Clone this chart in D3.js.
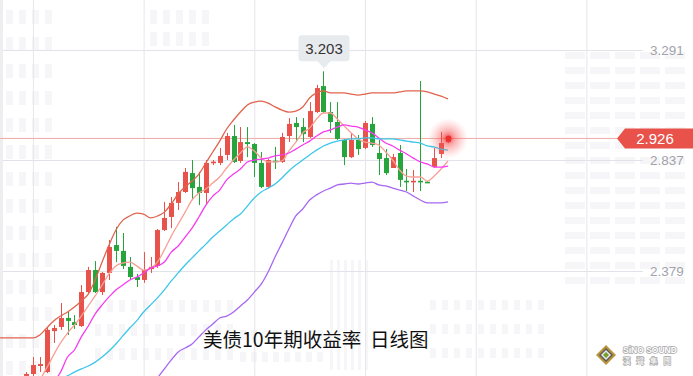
<!DOCTYPE html>
<html>
<head>
<meta charset="utf-8">
<script src="https://cdn.jsdelivr.net/npm/d3@7"></script>
<style>
  html, body { margin: 0; padding: 0; background: #fff; overflow: hidden; }
  svg { display: block; }
</style>
</head>
<body>
<div id="chart"></div>
<script>
// Daily candles, index 0 = first visible bar
const opens = [1.946,1.954,1.987,1.962,2.131,2.148,2.185,2.168,2.152,2.292,2.383,2.292,2.371,2.486,2.462,2.396,2.354,2.342,2.387,2.400,2.548,2.602,2.660,2.705,2.783,2.726,2.701,2.825,2.825,2.858,2.936,2.833,2.911,2.903,2.825,2.726,2.833,2.829,2.936,2.990,2.973,2.932,3.035,3.142,3.035,2.994,2.920,2.849,2.920,2.887,2.986,2.866,2.845,2.804,2.866,2.750,2.746,2.750,2.746,2.808,2.862,2.911];
const highs = [1.962,2.024,2.024,2.148,2.156,2.247,2.210,2.197,2.321,2.396,2.420,2.375,2.507,2.561,2.536,2.437,2.367,2.457,2.437,2.552,2.664,2.684,2.746,2.804,2.837,2.788,2.837,2.837,2.887,2.949,2.982,2.973,2.973,2.907,2.870,2.841,2.891,2.949,3.010,3.014,3.010,3.076,3.147,3.203,3.076,3.076,2.924,2.949,2.940,2.998,3.014,2.920,2.882,2.862,2.899,2.800,2.796,3.163,2.750,2.887,2.953,2.932];
const lows = [1.946,1.946,1.962,1.958,2.082,2.136,2.115,2.140,2.148,2.288,2.288,2.280,2.342,2.416,2.387,2.342,2.313,2.330,2.371,2.392,2.544,2.556,2.631,2.701,2.672,2.651,2.656,2.816,2.816,2.837,2.825,2.825,2.849,2.767,2.721,2.721,2.800,2.825,2.911,2.911,2.911,2.928,3.031,3.031,2.949,2.920,2.816,2.845,2.858,2.882,2.891,2.775,2.775,2.804,2.726,2.709,2.705,2.709,2.742,2.804,2.845,2.907];
const closes = [1.954,1.991,1.995,2.136,2.144,2.185,2.173,2.156,2.292,2.383,2.292,2.371,2.478,2.462,2.400,2.354,2.342,2.383,2.396,2.548,2.598,2.660,2.705,2.788,2.721,2.701,2.825,2.829,2.854,2.936,2.829,2.911,2.903,2.825,2.726,2.837,2.829,2.932,2.986,2.973,2.944,3.039,3.134,3.035,2.994,2.924,2.849,2.920,2.882,2.990,2.899,2.841,2.783,2.849,2.755,2.746,2.750,2.746,2.742,2.845,2.907,2.926];

// Indicator lines; each starts at the given bar index
const upperStart = -4;
const upperBand = [2.103,2.103,2.103,2.103,2.103,2.103,2.115,2.144,2.173,2.193,2.210,2.230,2.255,2.284,2.342,2.416,2.486,2.548,2.589,2.606,2.618,2.614,2.598,2.606,2.622,2.656,2.697,2.726,2.750,2.779,2.825,2.870,2.915,2.965,3.002,3.035,3.064,3.076,3.080,3.072,3.056,3.043,3.035,3.039,3.056,3.093,3.114,3.122,3.114,3.114,3.114,3.109,3.105,3.109,3.114,3.114,3.114,3.114,3.118,3.122,3.122,3.122,3.118,3.109,3.101,3.089];
const ma5Start = 2;
const ma5 = [1.929,1.979,2.033,2.082,2.123,2.156,2.193,2.235,2.276,2.321,2.367,2.400,2.412,2.416,2.400,2.383,2.391,2.416,2.466,2.523,2.573,2.622,2.672,2.701,2.717,2.742,2.767,2.804,2.837,2.866,2.891,2.874,2.845,2.829,2.829,2.833,2.874,2.911,2.949,2.969,3.006,3.031,3.031,3.006,2.977,2.949,2.924,2.911,2.907,2.899,2.870,2.837,2.796,2.771,2.767,2.767,2.750,2.771,2.800,2.833];
const ma10Start = 4;
const ma10 = [1.921,1.962,2.024,2.053,2.107,2.152,2.202,2.239,2.272,2.301,2.321,2.342,2.354,2.371,2.391,2.400,2.416,2.457,2.482,2.519,2.556,2.602,2.651,2.688,2.713,2.755,2.779,2.800,2.829,2.837,2.841,2.845,2.854,2.858,2.866,2.882,2.899,2.915,2.936,2.953,2.961,2.973,2.982,2.977,2.973,2.961,2.949,2.928,2.907,2.895,2.878,2.862,2.845,2.829,2.821,2.808,2.808,2.812];
const midStart = 5;
const midBand = [1.933,1.946,1.962,1.975,1.987,2.003,2.024,2.049,2.078,2.111,2.144,2.173,2.210,2.239,2.268,2.301,2.338,2.371,2.404,2.433,2.462,2.490,2.519,2.544,2.569,2.594,2.614,2.647,2.680,2.705,2.721,2.738,2.763,2.792,2.816,2.837,2.858,2.878,2.895,2.907,2.915,2.920,2.924,2.924,2.928,2.928,2.924,2.924,2.924,2.920,2.915,2.911,2.907,2.895,2.891,2.882,2.878];
const lowerStart = 18;
const lowerBand = [1.896,1.937,1.975,2.012,2.045,2.061,2.078,2.107,2.136,2.160,2.185,2.193,2.210,2.235,2.259,2.292,2.325,2.375,2.437,2.494,2.552,2.606,2.635,2.672,2.693,2.709,2.721,2.734,2.738,2.742,2.738,2.742,2.746,2.734,2.730,2.721,2.713,2.705,2.688,2.672,2.660,2.660,2.660,2.664];

const yTicks = [2.379, 2.837, 3.291];
const xGridIdx = [1, 17, 33, 49, 65, 81];
const title = '美债10年期收益率  日线图';

const width = 693, height = 376;
const plotRight = 643;
const upColor = '#e8524a', downColor = '#25a53b';

const svg = d3.select('#chart').append('svg')
    .attr('width', width)
    .attr('height', height);

const x = d3.scaleLinear().domain([0, 61]).range([26, 448]);
const y = d3.scaleLinear().domain([2.379, 3.291]).range([271, 50]);

// faint building watermark
const wm = svg.append('g').attr('fill', '#f6f6f8');
const blocks = [
    // x0, y0, cols, rows, w, h, dx, dy
    [6, 10, 4, 14, 7, 14, 13, 27],
    [150, 10, 5, 2, 7, 14, 13, 22],
    [565, 52, 5, 16, 20, 7, 25, 15],
    [95, 300, 12, 3, 6, 12, 12, 24],
    [240, 330, 8, 2, 6, 10, 11, 22],
    [430, 300, 10, 3, 6, 10, 12, 24],
    [330, 260, 6, 1, 3, 110, 7, 0]
];
blocks.forEach(([x0, y0, cols, rows, w, h, dx, dy]) => {
    for (let r = 0; r < rows; r++) {
        for (let c = 0; c < cols; c++) {
            wm.append('rect')
                .attr('x', x0 + c * dx)
                .attr('y', y0 + r * dy)
                .attr('width', w)
                .attr('height', h);
        }
    }
});
svg.append('rect').attr('x', 0).attr('y', 0).attr('width', 3).attr('height', height).attr('fill', '#eeeef1');

// grid
const hGrid = svg.append('g')
    .attr('transform', `translate(${plotRight},0)`)
    .call(d3.axisLeft(y).tickValues(yTicks).tickSize(plotRight - 3).tickFormat(''));
hGrid.select('.domain').remove();
hGrid.selectAll('line').attr('stroke', '#e2e2ea');

const vGrid = svg.append('g')
    .call(d3.axisTop(x).tickValues(xGridIdx).tickSize(-height).tickFormat(''));
vGrid.select('.domain').remove();
vGrid.selectAll('line').attr('stroke', '#e6e6ec');

// last price line
const last = closes.length - 1;
const lastY = y(closes[last]);
svg.append('line')
    .attr('x1', 0).attr('x2', 617)
    .attr('y1', lastY).attr('y2', lastY)
    .attr('stroke', '#f1aaa4').attr('stroke-width', 1);

// candles
const idx = d3.range(closes.length);
const cw = 5;
const candles = svg.append('g');
idx.forEach(i => {
    const up = closes[i] >= opens[i];
    const col = up ? upColor : downColor;
    const cx = Math.round(x(i)) + 0.5;
    candles.append('line')
        .attr('x1', cx).attr('x2', cx)
        .attr('y1', y(highs[i])).attr('y2', y(lows[i]))
        .attr('stroke', col).attr('stroke-width', 1);
    const top = y(Math.max(opens[i], closes[i]));
    const bot = y(Math.min(opens[i], closes[i]));
    const h = Math.max(1.6, bot - top);
    candles.append('rect')
        .attr('x', cx - cw / 2).attr('y', (top + bot) / 2 - h / 2)
        .attr('width', cw).attr('height', h)
        .attr('fill', col);
});

// indicator lines
const line = d3.line().x(d => x(d[0])).y(d => y(d[1])).curve(d3.curveMonotoneX);
const series = [
    [upperBand, upperStart, '#e0644e'],
    [ma5, ma5Start, '#f7a096'],
    [ma10, ma10Start, '#f73bf0'],
    [midBand, midStart, '#3cc6ea'],
    [lowerBand, lowerStart, '#a767f2']
];
series.forEach(([vals, start, col]) => {
    svg.append('path')
        .datum(vals.map((v, k) => [start + k, v]))
        .attr('d', line)
        .attr('fill', 'none')
        .attr('stroke', col)
        .attr('stroke-width', 1.3);
});

// glow on last bar
const defs = svg.append('defs');
const grad = defs.append('radialGradient').attr('id', 'glow');
grad.append('stop').attr('offset', '0%').attr('stop-color', '#f02a2a').attr('stop-opacity', 0.85);
grad.append('stop').attr('offset', '35%').attr('stop-color', '#f34848').attr('stop-opacity', 0.45);
grad.append('stop').attr('offset', '100%').attr('stop-color', '#ff8080').attr('stop-opacity', 0);
svg.append('circle')
    .attr('cx', x(last)).attr('cy', lastY).attr('r', 20)
    .attr('fill', 'url(#glow)');
svg.append('circle')
    .attr('cx', x(last) + 0.5).attr('cy', lastY).attr('r', 3)
    .attr('fill', '#ee2f2f');

// max high label
const maxI = d3.maxIndex(highs);
const mx = x(maxI) + 0.5, my = y(highs[maxI]);
const tip = svg.append('g');
tip.append('rect')
    .attr('x', mx - 25.5).attr('y', my - 36)
    .attr('width', 51).attr('height', 26).attr('rx', 3)
    .attr('fill', '#e8ebee');
tip.append('path')
    .attr('d', `M${mx - 7},${my - 10.5}L${mx + 7},${my - 10.5}L${mx},${my - 3}Z`)
    .attr('fill', '#e8ebee');
tip.append('text')
    .attr('x', mx).attr('y', my - 23)
    .attr('dy', '0.35em')
    .attr('text-anchor', 'middle')
    .attr('font-family', '"Liberation Sans", Arial, sans-serif')
    .attr('font-size', 15)
    .attr('fill', '#333')
    .text(d3.format('.3f')(highs[maxI]));

// y labels
const yAxis = svg.append('g')
    .attr('transform', 'translate(648,0)')
    .call(d3.axisRight(y).tickValues(yTicks).tickSize(0).tickPadding(2).tickFormat(d3.format('.3f')));
yAxis.select('.domain').remove();
yAxis.selectAll('text')
    .attr('font-family', '"Liberation Sans", Arial, sans-serif')
    .attr('font-size', 13.5)
    .attr('fill', '#a2a2ab');

// last price tag
const tag = svg.append('g');
tag.append('path')
    .attr('d', `M617,${lastY}L625,${lastY - 10}L${width},${lastY - 10}L${width},${lastY + 10}L625,${lastY + 10}Z`)
    .attr('fill', '#e8524a');
tag.append('text')
    .attr('x', 655).attr('y', lastY)
    .attr('dy', '0.35em')
    .attr('text-anchor', 'middle')
    .attr('font-family', '"Liberation Sans", Arial, sans-serif')
    .attr('font-size', 15)
    .attr('fill', '#fff')
    .text(d3.format('.3f')(closes[last]));

// title
svg.append('text')
    .attr('x', 203).attr('y', 347)
    .attr('font-family', '"Noto Sans CJK SC", sans-serif')
    .attr('font-size', 19.5)
    .attr('fill', '#111')
    .style('white-space', 'pre')
    .text(title);

// logo
const logo = svg.append('g').attr('transform', 'translate(606,355)');
const diamond = s => `M0,${-s}L${s},0L0,${s}L${-s},0Z`;
logo.append('path').attr('d', diamond(10)).attr('fill', '#b8933c');
logo.append('path').attr('d', diamond(7)).attr('fill', '#5b5b5b');
logo.append('path').attr('d', diamond(5)).attr('fill', '#e9e9e9');
logo.append('path').attr('d', diamond(3)).attr('fill', '#74a02c');
logo.append('text')
    .attr('x', 17).attr('y', -2)
    .attr('font-family', '"Liberation Sans", Arial, sans-serif')
    .attr('font-weight', 'bold')
    .attr('font-size', 8.5)
    .attr('fill', '#fff')
    .attr('stroke', '#a8a8a8').attr('stroke-width', 1.4)
    .attr('paint-order', 'stroke')
    .text('SiNO SOUND');
logo.append('text')
    .attr('x', 17).attr('y', 9)
    .attr('font-family', '"Noto Sans CJK TC", sans-serif')
    .attr('font-size', 7.5)
    .attr('letter-spacing', 6)
    .attr('fill', '#fff')
    .attr('stroke', '#a8a8a8').attr('stroke-width', 1.4)
    .attr('paint-order', 'stroke')
    .text('漢聲集團');
</script>
</body>
</html>
